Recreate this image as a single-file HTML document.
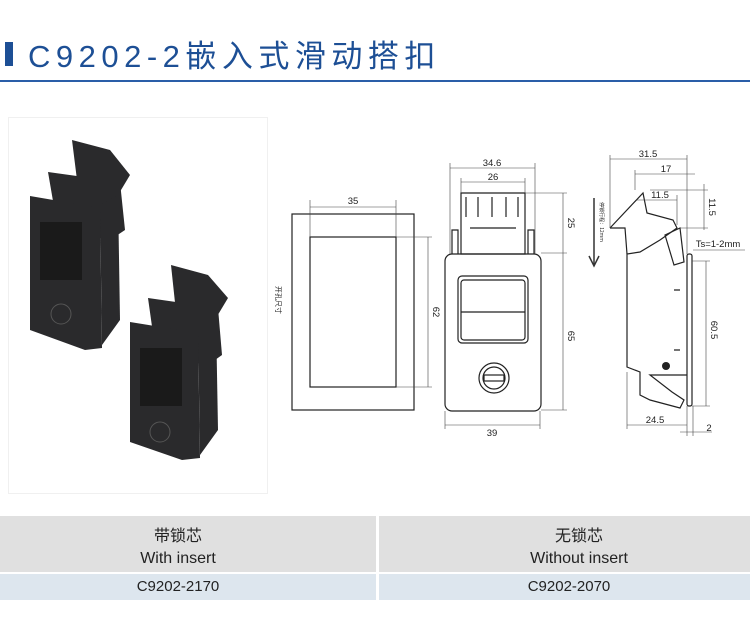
<!DOCTYPE html>
<html><head><meta charset="utf-8"><style>
body{margin:0;width:750px;height:625px;background:#fff;position:relative;overflow:hidden;font-family:"Liberation Sans","Noto Sans CJK SC",sans-serif}
.a{position:absolute}
.t{position:absolute;font-size:16px;color:#222;text-align:center;white-space:nowrap}
</style></head><body>
<div class="a" style="left:5px;top:42px;width:8px;height:24px;background:#1d4f95"></div>
<div class="a" style="left:28px;top:31px;font-size:31px;letter-spacing:5.5px;color:#1d4f95;white-space:nowrap">C9202-2嵌入式滑动搭扣</div>
<div class="a" style="left:0;top:80px;width:750px;height:2px;background:#2a5ea8"></div>
<div class="a" style="left:8px;top:117px;width:258px;height:375px;border:1px solid #f0f0f0"></div>

<svg class="a" style="left:0;top:0" width="750" height="625" viewBox="0 0 750 625">
<g fill="#2a2a2c">
<polygon points="72,140 110,150 130,175 118,195 78,188"/>
<polygon points="48,172 120,182 125,230 110,240 58,230"/>
<polygon points="30,196 100,208 102,348 85,350 30,330"/>
<polygon points="100,205 118,195 120,320 102,345"/>
<polygon points="171,265 208,275 228,298 216,318 176,312"/>
<polygon points="148,298 218,308 222,355 208,365 156,355"/>
<polygon points="130,322 198,333 200,458 182,460 130,442"/>
<polygon points="198,330 216,318 218,430 200,455"/>
</g>
<g fill="#1a1a1a"><rect x="40" y="222" width="42" height="58"/><rect x="140" y="348" width="42" height="58"/></g>
<g fill="none" stroke="#555"><circle cx="61" cy="314" r="10"/><circle cx="160" cy="432" r="10"/></g>

<g fill="none" stroke="#222" stroke-width="1.2">
<rect x="292" y="214" width="122" height="196"/>
<rect x="310" y="237" width="86" height="150"/>
<rect x="445" y="254" width="96" height="157" rx="7"/>
<rect x="458" y="276" width="70" height="67" rx="4"/>
<rect x="461" y="280" width="64" height="60" rx="3"/>
<line x1="461" y1="312" x2="525" y2="312"/>
<path d="M461 193 H525 V254 H461 Z"/>
<path d="M452 254 V230 h6 V254 M528 254 V230 h6 V254 M470 228 H516"/>
<path d="M466 197 v20 M478 197 v20 M492 197 v20 M506 197 v20 M518 197 v20"/>
<circle cx="494" cy="378" r="15"/><circle cx="494" cy="378" r="11"/>
<rect x="484" y="375" width="20" height="6"/>
<path d="M610 228 L643 193 L647 213 L673 220 L677 228 L660 240 L640 252 L627 254 V367 L640 372 V395 L650 400 L680 408 L684 400 L672 392 L650 375 H687"/>
<path d="M610 228 H625 L627 254"/>
<path d="M665 235 L680 228 L684 262 L674 265 Z"/>
<rect x="687" y="254" width="5" height="152" rx="2"/>
<path d="M680 290 h-6 M680 350 h-6"/>
</g>
<circle cx="666" cy="366" r="4" fill="#222"/>
<g stroke="#444" stroke-width="0.6" fill="none">
<line x1="310" y1="207" x2="396" y2="207"/><line x1="310" y1="200" x2="310" y2="237"/><line x1="396" y1="200" x2="396" y2="237"/>
<line x1="428" y1="237" x2="428" y2="387"/><line x1="396" y1="237" x2="432" y2="237"/><line x1="396" y1="387" x2="432" y2="387"/>
<line x1="450" y1="168" x2="535" y2="168"/><line x1="450" y1="163" x2="450" y2="254"/><line x1="535" y1="163" x2="535" y2="254"/>
<line x1="461" y1="182" x2="525" y2="182"/><line x1="461" y1="178" x2="461" y2="193"/><line x1="525" y1="178" x2="525" y2="193"/>
<line x1="563" y1="193" x2="563" y2="410"/><line x1="525" y1="193" x2="567" y2="193"/><line x1="541" y1="253" x2="567" y2="253"/><line x1="541" y1="410" x2="567" y2="410"/>
<line x1="445" y1="425" x2="540" y2="425"/><line x1="445" y1="411" x2="445" y2="429"/><line x1="540" y1="411" x2="540" y2="429"/>
<line x1="610" y1="159" x2="687" y2="159"/><line x1="610" y1="155" x2="610" y2="228"/><line x1="687" y1="155" x2="687" y2="254"/>
<line x1="635" y1="174" x2="695" y2="174"/><line x1="635" y1="170" x2="635" y2="190"/>
<line x1="637" y1="200" x2="677" y2="200"/><line x1="677" y1="195" x2="677" y2="225"/>
<line x1="704" y1="184" x2="704" y2="230"/><line x1="650" y1="190" x2="708" y2="190"/><line x1="680" y1="228" x2="708" y2="228"/>
<line x1="706" y1="261" x2="706" y2="406"/><line x1="692" y1="261" x2="710" y2="261"/><line x1="692" y1="406" x2="710" y2="406"/>
<line x1="693" y1="250" x2="745" y2="250"/>
<line x1="627" y1="425" x2="687" y2="425"/><line x1="627" y1="372" x2="627" y2="429"/><line x1="687" y1="406" x2="687" y2="436"/>
<line x1="680" y1="432" x2="712" y2="432"/><line x1="693" y1="406" x2="693" y2="436"/>
</g>
<line x1="594" y1="198" x2="594" y2="265" stroke="#333" stroke-width="1.5"/>
<polyline points="589,256 594,266 599,256" fill="none" stroke="#333" stroke-width="1.5"/>
<g font-family="Liberation Sans, sans-serif" font-size="9.5" fill="#222" text-anchor="middle">
<text x="353" y="204">35</text>
<text x="492" y="166">34.6</text><text x="493" y="180">26</text>
<text x="492" y="436">39</text>
<text x="648" y="157">31.5</text><text x="666" y="172">17</text><text x="660" y="198">11.5</text>
<text x="655" y="423">24.5</text><text x="709" y="431">2</text>
<text x="718" y="247">Ts=1-2mm</text>
<text transform="translate(433,312) rotate(90)">62</text>
<text transform="translate(568,223) rotate(90)">25</text>
<text transform="translate(568,336) rotate(90)">65</text>
<text transform="translate(709,207) rotate(90)">11.5</text>
<text transform="translate(711,330) rotate(90)">60.5</text>
<text transform="translate(276,300) rotate(90)" font-size="7" font-family="Noto Sans CJK SC, sans-serif">开孔尺寸</text>
<text transform="translate(600,222) rotate(90)" font-size="5" font-family="Noto Sans CJK SC, sans-serif">停锁行程：12mm</text>
</g>
</svg>

<div class="a" style="left:0;top:516px;width:376px;height:56px;background:#e0e0e0"></div>
<div class="a" style="left:379px;top:516px;width:371px;height:56px;background:#e0e0e0"></div>
<div class="a" style="left:0;top:574px;width:376px;height:26px;background:#dde6ee"></div>
<div class="a" style="left:379px;top:574px;width:371px;height:26px;background:#dde6ee"></div>
<div class="t" style="left:0;width:356px;top:526px;line-height:22px">带锁芯<br>With insert</div>
<div class="t" style="left:379px;width:400px;top:526px;line-height:22px">无锁芯<br>Without insert</div>
<div class="t" style="left:0;width:356px;top:578px;font-size:15px">C9202-2170</div>
<div class="t" style="left:379px;width:380px;top:578px;font-size:15px">C9202-2070</div>
</body></html>
